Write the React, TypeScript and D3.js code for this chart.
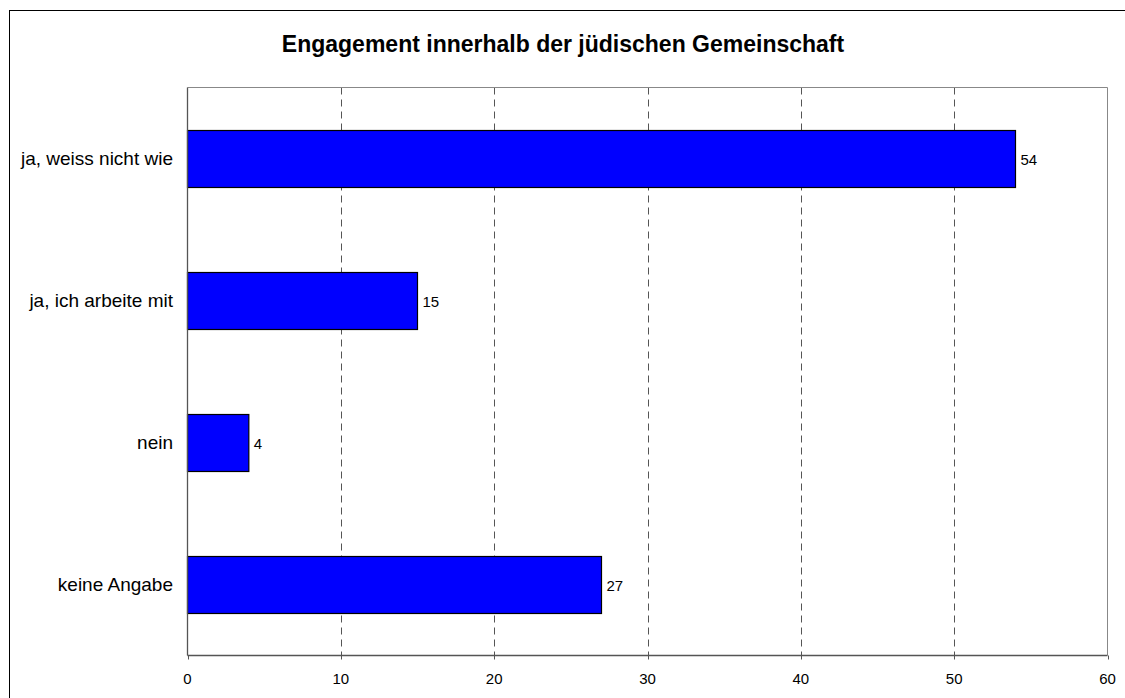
import React from "react";
import * as d3 from "d3";

const title = "Engagement innerhalb der jüdischen Gemeinschaft";
const categories = ["ja, weiss nicht wie", "ja, ich arbeite mit", "nein", "keine Angabe"];
const values = [54, 15, 4, 27];
const xTicks = [0, 10, 20, 30, 40, 50, 60];

const W = 1125;
const H = 698;
const plot = { left: 187.5, right: 1107.5, top: 87.5, bottom: 655.5 };
const font = "Arial, 'Liberation Sans', sans-serif";

export default function App() {
  const x = d3.scaleLinear().domain([0, 60]).range([plot.left, plot.right]);
  const y = d3
    .scaleBand<string>()
    .domain(categories)
    .range([plot.top, plot.bottom])
    .paddingInner(0.6)
    .paddingOuter(0.3);

  return (
    <svg
      width={W}
      height={H}
      style={{ position: "absolute", left: 0, top: 0, display: "block", background: "#fff" }}
      fontFamily={font}
    >
      <rect x={9.5} y={10.5} width={1200} height={1000} fill="#fff" stroke="#000" strokeWidth={1} />
      <text x={563} y={51.5} textAnchor="middle" fontSize={23} fontWeight="bold" fill="#000">
        {title}
      </text>
      {/* gridlines */}
      {xTicks
        .filter((t) => t > 0 && t < 60)
        .map((t) => (
          <line
            key={"g" + t}
            x1={Math.round(x(t)) + 0.5}
            x2={Math.round(x(t)) + 0.5}
            y1={plot.top}
            y2={plot.bottom}
            stroke="#555"
            strokeWidth={1}
            strokeDasharray="7,5"
          />
        ))}
      {/* plot border top/right */}
      <line x1={plot.left} x2={plot.right} y1={plot.top} y2={plot.top} stroke="#888" />
      <line x1={plot.right} x2={plot.right} y1={plot.top} y2={plot.bottom} stroke="#888" />
      {/* bars */}
      {categories.map((c, i) => (
        <g key={c}>
          <rect
            x={x(0)}
            y={Math.round(y(c)!) + 0.5}
            width={x(values[i]) - x(0)}
            height={Math.round(y.bandwidth())}
            fill="#0000FF"
            stroke="#000"
            strokeWidth={1.2}
          />
          <text
            x={x(values[i]) + 5}
            y={y(c)! + y.bandwidth() / 2 + 6}
            fontSize={15}
            fill="#000"
          >
            {values[i]}
          </text>
          <text
            x={173}
            y={y(c)! + y.bandwidth() / 2 + 6.5}
            fontSize={19}
            textAnchor="end"
            fill="#000"
          >
            {c}
          </text>
        </g>
      ))}
      {/* axes */}
      <line x1={plot.left} x2={plot.left} y1={plot.top} y2={plot.bottom} stroke="#555" strokeWidth={1.3} />
      <line x1={plot.left} x2={plot.right} y1={plot.bottom} y2={plot.bottom} stroke="#555" strokeWidth={1.3} />
      {xTicks.map((t) => (
        <g key={"t" + t}>
          <line
            x1={Math.round(x(t)) + 0.5}
            x2={Math.round(x(t)) + 0.5}
            y1={plot.bottom}
            y2={plot.bottom + 4}
            stroke="#555"
          />
          <text x={x(t)} y={683.5} fontSize={15} textAnchor="middle" fill="#000">
            {t}
          </text>
        </g>
      ))}
    </svg>
  );
}
